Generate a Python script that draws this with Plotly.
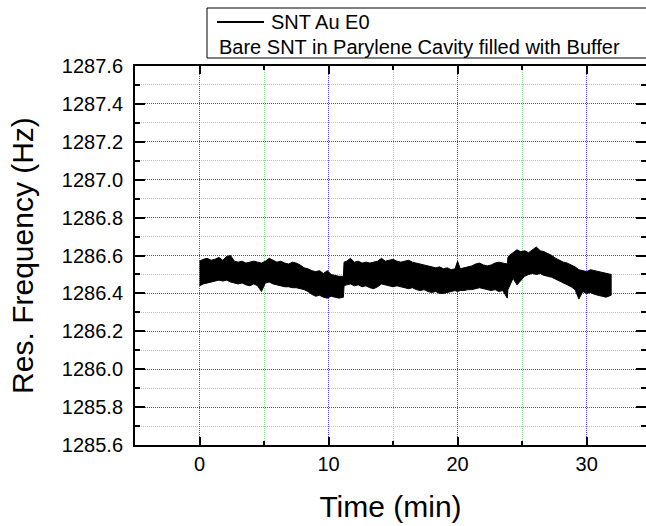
import plotly.graph_objects as go

# Time (min) samples along the recorded trace and the upper / lower edges of the noisy band (Hz)
time_min = [
    0.0, 0.3, 0.6, 0.9, 1.2, 1.5, 1.8, 2.1, 2.4, 2.7, 3.0, 3.3, 3.6, 3.9, 4.2, 4.5, 4.8, 5.1, 5.4, 5.7,
    6.0, 6.3, 6.6, 6.9, 7.2, 7.5, 7.8, 8.1, 8.4, 8.7, 9.0, 9.3, 9.6, 9.9, 10.2, 10.5, 10.8, 11.15,
    11.2, 11.4, 11.7, 12.0, 12.3, 12.6, 12.9, 13.2, 13.5, 13.8, 14.1, 14.4, 14.7, 15.0, 15.3, 15.6,
    15.9, 16.2, 16.5, 16.8, 17.1, 17.4, 17.7, 18.0, 18.3, 18.6, 18.9, 19.2, 19.5, 19.8, 20.0, 20.2,
    20.5, 20.8, 21.1, 21.4, 21.7, 22.0, 22.3, 22.6, 22.9, 23.2, 23.5, 23.85,
    23.9, 24.0, 24.3, 24.6, 24.9, 25.2, 25.5, 25.8, 26.1, 26.4, 26.7, 27.0, 27.3, 27.6, 27.9, 28.2,
    28.5, 28.8, 29.1, 29.4, 29.7, 30.0, 30.3, 30.6, 30.9, 31.2, 31.5, 31.9,
]
freq_upper = [
    1286.570, 1286.580, 1286.585, 1286.575, 1286.580, 1286.590, 1286.575, 1286.595, 1286.600, 1286.570,
    1286.565, 1286.570, 1286.560, 1286.565, 1286.570, 1286.565, 1286.560, 1286.570, 1286.585, 1286.575,
    1286.565, 1286.570, 1286.560, 1286.555, 1286.565, 1286.560, 1286.550, 1286.535, 1286.530, 1286.520,
    1286.515, 1286.520, 1286.505, 1286.520, 1286.500, 1286.495, 1286.490, 1286.490,
    1286.565, 1286.570, 1286.585, 1286.565, 1286.570, 1286.560, 1286.565, 1286.560, 1286.565, 1286.570,
    1286.585, 1286.570, 1286.575, 1286.580, 1286.570, 1286.565, 1286.570, 1286.575, 1286.565, 1286.560,
    1286.555, 1286.550, 1286.545, 1286.540, 1286.535, 1286.540, 1286.530, 1286.535, 1286.525, 1286.530,
    1286.570, 1286.530, 1286.535, 1286.540, 1286.545, 1286.555, 1286.560, 1286.550, 1286.545, 1286.550,
    1286.560, 1286.565, 1286.560, 1286.555,
    1286.590, 1286.600, 1286.615, 1286.630, 1286.620, 1286.625, 1286.615, 1286.630, 1286.645, 1286.625,
    1286.620, 1286.610, 1286.600, 1286.585, 1286.575, 1286.565, 1286.560, 1286.550, 1286.540, 1286.525,
    1286.520, 1286.515, 1286.525, 1286.520, 1286.515, 1286.510, 1286.505, 1286.500,
]
freq_lower = [
    1286.440, 1286.450, 1286.455, 1286.460, 1286.465, 1286.470, 1286.465, 1286.470, 1286.460, 1286.455,
    1286.450, 1286.455, 1286.445, 1286.440, 1286.450, 1286.440, 1286.410, 1286.455, 1286.460, 1286.450,
    1286.445, 1286.440, 1286.435, 1286.435, 1286.430, 1286.430, 1286.425, 1286.420, 1286.410, 1286.395,
    1286.385, 1286.390, 1286.380, 1286.375, 1286.385, 1286.380, 1286.375, 1286.380,
    1286.440, 1286.445, 1286.450, 1286.440, 1286.445, 1286.435, 1286.440, 1286.430, 1286.425, 1286.435,
    1286.450, 1286.445, 1286.440, 1286.435, 1286.440, 1286.435, 1286.430, 1286.425, 1286.430, 1286.420,
    1286.415, 1286.420, 1286.410, 1286.405, 1286.410, 1286.400, 1286.400, 1286.405, 1286.410, 1286.415,
    1286.410, 1286.415, 1286.415, 1286.420, 1286.420, 1286.425, 1286.430, 1286.425, 1286.420, 1286.415,
    1286.420, 1286.410, 1286.415, 1286.375,
    1286.420, 1286.440, 1286.480, 1286.445, 1286.470, 1286.490, 1286.500, 1286.505, 1286.500, 1286.505,
    1286.495, 1286.490, 1286.485, 1286.475, 1286.465, 1286.455, 1286.445, 1286.435, 1286.420, 1286.370,
    1286.410, 1286.400, 1286.405, 1286.395, 1286.390, 1286.385, 1286.380, 1286.390,
]

series_name = "SNT Au E0"
note_text = "Bare SNT in Parylene Cavity filled with Buffer"
x_title = "Time (min)"
y_title = "Res. Frequency (Hz)"

FONT = "Liberation Sans, Arial, sans-serif"

band_x = time_min + time_min[::-1]
band_y = freq_upper + freq_lower[::-1]

fig = go.Figure()
fig.add_trace(go.Scatter(
    x=band_x, y=band_y, mode="lines", fill="toself", name=series_name,
    fillcolor="black", line=dict(color="black", width=1),
    showlegend=False, hoverinfo="skip",
))

grid_major = "#4646ff"
grid_minor = "#86e486"
GRID_DASH = "1px,1px"

PW = 511.0   # plot-area width in px
PH = 379.0   # plot-area height in px
def px_x(px):
    return (px - 135) / PW
def px_y(py):
    return (445 - py) / PH

frame = dict(color="black", width=1)

fig.update_layout(
    width=646, height=526,
    margin=dict(l=135, r=0, t=66, b=81, autoexpand=False),
    paper_bgcolor="white", plot_bgcolor="white",
    font=dict(family=FONT, color="black", size=20),
    showlegend=False,
    xaxis=dict(
        range=[-5, 34.6], dtick=10, tick0=0,
        ticks="inside", ticklen=8, tickwidth=2, tickcolor="black",
        showline=True, linecolor="black", linewidth=2, mirror="allticks",
        showgrid=True, gridcolor=grid_major, griddash=GRID_DASH, gridwidth=1,
        zeroline=False,
        minor=dict(tick0=5, dtick=10, ticks="inside", ticklen=4, tickwidth=2, tickcolor="black",
                   showgrid=True, gridcolor=grid_minor, griddash=GRID_DASH, gridwidth=1),
        tickfont=dict(size=20),
        title=dict(text=x_title, font=dict(size=30), standoff=22),
        automargin=False,
    ),
    yaxis=dict(
        range=[1285.6, 1287.6], dtick=0.2, tick0=1285.6, tickformat=".1f",
        ticks="inside", ticklen=10, tickwidth=2, tickcolor="black",
        showline=True, linecolor="black", linewidth=2, mirror="allticks",
        showgrid=True, gridcolor=grid_major, griddash=GRID_DASH, gridwidth=1,
        zeroline=False,
        minor=dict(tick0=1285.7, dtick=0.2, ticks="inside", ticklen=5, tickwidth=2, tickcolor="black",
                   showgrid=True, gridcolor=grid_minor, griddash=GRID_DASH, gridwidth=1),
        tickfont=dict(size=20),
        ticklabelstandoff=6,
        title=dict(text=y_title, font=dict(size=30), standoff=19),
        automargin=False,
    ),
    shapes=[
        # legend frame: top, left and bottom edges (it runs off the right edge of the picture)
        dict(type="line", xref="paper", yref="paper",
             x0=px_x(207), x1=1.3, y0=px_y(8), y1=px_y(8), line=frame, layer="above"),
        dict(type="line", xref="paper", yref="paper",
             x0=px_x(207), x1=1.3, y0=px_y(58), y1=px_y(58), line=frame, layer="above"),
        dict(type="line", xref="paper", yref="paper",
             x0=px_x(207), x1=px_x(207), y0=px_y(58), y1=px_y(8), line=frame, layer="above"),
        # legend key line
        dict(type="line", xref="paper", yref="paper",
             x0=px_x(217), x1=px_x(264), y0=px_y(22), y1=px_y(22),
             line=dict(color="black", width=2), layer="above"),
    ],
    annotations=[
        dict(text=series_name, xref="paper", yref="paper",
             x=px_x(269), y=px_y(22), xanchor="left", yanchor="middle",
             showarrow=False, font=dict(size=20, family=FONT, color="black")),
        dict(text=note_text, xref="paper", yref="paper",
             x=px_x(217), y=px_y(47), xanchor="left", yanchor="middle",
             showarrow=False, font=dict(size=20, family=FONT, color="black")),
    ],
)

# keep the page itself from showing scrollbars around the fixed-size figure
page_css = (
    "document.documentElement.style.overflow='hidden';"
    "document.body.style.overflow='hidden';"
    "document.body.style.margin='0';"
)

fig.write_html("out.html", post_script=page_css)
